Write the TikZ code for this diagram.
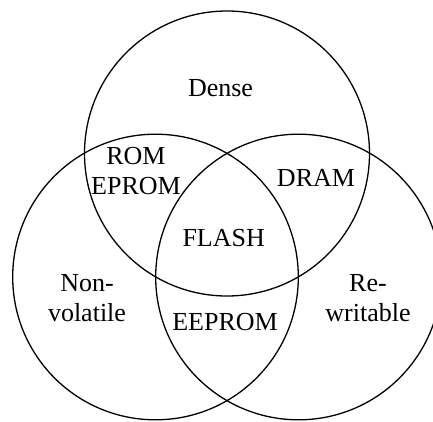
\documentclass[tikz,border=0pt]{standalone}
\usepackage{fontspec}
\setmainfont{Liberation Serif}
\begin{document}
\begin{tikzpicture}[x=1pt,y=-1pt,
  setcircle/.style={draw, circle, line width=1.3pt, inner sep=0pt, minimum size=#1},
  lbl/.style={font=\fontsize{26}{30}\selectfont, align=center, inner sep=0pt, anchor=base}]
\useasboundingbox (0,0) rectangle (433,421);
\node[setcircle=285pt] (dense) at (227,153.5) {};
\node[setcircle=285.6pt] (nonvol) at (155.5,277) {};
\node[setcircle=285.6pt] (rewr) at (298.5,277) {};
\node[lbl] (tDense) at (220.5,96) {Dense};
\node[lbl] (tRom) at (136,194) {ROM\\EPROM};
\node[lbl] (tDram) at (316,186.7) {DRAM};
\node[lbl] (tFlash) at (223.7,246.7) {FLASH};
\node[lbl] (tNon) at (87,321.7) {Non-\\volatile};
\node[lbl] (tRe) at (368,321.7) {Re-\\writable};
\node[lbl] (tEe) at (225,330) {EEPROM};
\end{tikzpicture}
\end{document}
